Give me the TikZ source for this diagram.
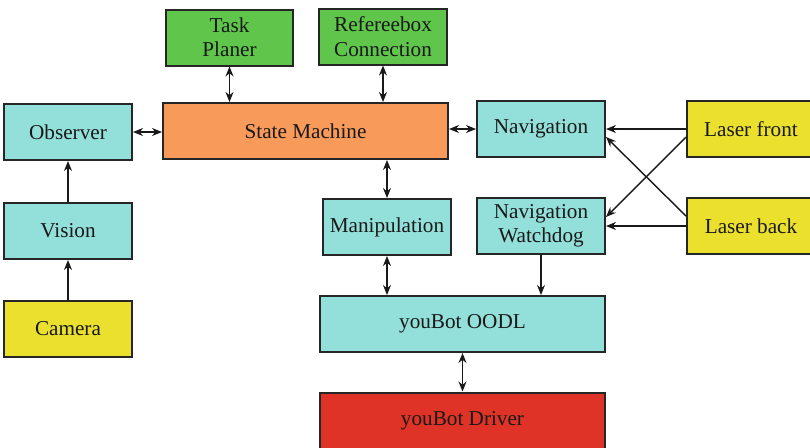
\documentclass[tikz,border=0pt]{standalone}
\usepackage{fontspec}
\setmainfont{Liberation Serif}
\newfontfamily\timesf{Liberation Serif}
\usetikzlibrary{arrows.meta,calc}
\definecolor{cgreen}{HTML}{5FC54B}
\definecolor{corange}{HTML}{F89A5A}
\definecolor{ccyan}{HTML}{93E0DA}
\definecolor{cyellow}{HTML}{EBE02E}
\definecolor{cred}{HTML}{DE3326}
\tikzset{
  blk/.style={draw=black!85, line width=1pt, rectangle, inner sep=0pt, align=center,
    minimum width=64pt, minimum height=28pt, font=\timesf\fontsize{10.6}{12.2}\selectfont, text=black!90},
  wide/.style={minimum width=142.5pt},
  conn/.style={line width=0.7pt, draw=black!90, -{Stealth[length=5pt,width=4pt]}},
  bconn/.style={line width=0.7pt, draw=black!90, {Stealth[length=5pt,width=4pt]}-{Stealth[length=5pt,width=4pt]}}
}
\begin{document}
\begin{tikzpicture}[x=0.5pt,y=-0.5pt]
\clip (0,0) rectangle (810,447);
\useasboundingbox (0,0) rectangle (810,447);
\fill[white] (0,0) rectangle (810,447);
\node[blk, fill=cgreen, minimum width=63.5pt] (tp) at (229.5,37.5) {Task\\Planer};
\node[blk, fill=cgreen] (ref) at (383,36.5) {Refereebox\\Connection};
\node[blk, fill=ccyan] (obs) at (68,132) {Observer};
\node[blk, fill=corange, wide] (sm) at (305.5,131) {State Machine};
\node[blk, fill=ccyan] (nav) at (541,129) {Navigation};
\node[blk, fill=cyellow] (lf) at (751,129) {Laser front};
\node[blk, fill=ccyan] (vis) at (68,231) {Vision};
\node[blk, fill=ccyan] (man) at (387,227) {Manipulation};
\node[blk, fill=ccyan] (wd) at (541,226) {Navigation\\Watchdog};
\node[blk, fill=cyellow] (lb) at (751,226) {Laser back};
\node[blk, fill=cyellow] (cam) at (68,329) {Camera};
\node[blk, fill=ccyan, wide] (oodl) at (462.5,324) {youBot OODL};
\node[blk, fill=cred, wide] (drv) at (462.5,420.5) {youBot Driver};

\draw[bconn] (tp.south) -- (tp.south |- sm.north);
\draw[bconn] (ref.south) -- (ref.south |- sm.north);
\draw[bconn] (obs.east) -- (obs.east -| sm.west);
\draw[bconn] (sm.east |- nav.west) -- (nav.west);
\draw[bconn] (man.north |- sm.south) -- (man.north);
\draw[conn] (cam.north) -- (vis.south);
\draw[conn] (vis.north) -- (obs.south);
\draw[conn] (lf.west) -- (nav.east);
\draw[conn] (lb.west) -- (wd.east);
\coordinate (lfx) at ($(lf.west)+(0,8)$);
\coordinate (wdx) at ($(wd.east)+(0,-9)$);
\coordinate (lbx) at ($(lb.west)+(0,-10)$);
\coordinate (navx) at ($(nav.east)+(0,8)$);
\draw[conn] (lfx) -- (wdx);
\draw[conn] (lbx) -- (navx);
\draw[bconn] (man.south) -- (man.south |- oodl.north);
\draw[conn] (wd.south) -- (wd.south |- oodl.north);
\draw[bconn] (oodl.south) -- (drv.north);
\end{tikzpicture}
\end{document}
